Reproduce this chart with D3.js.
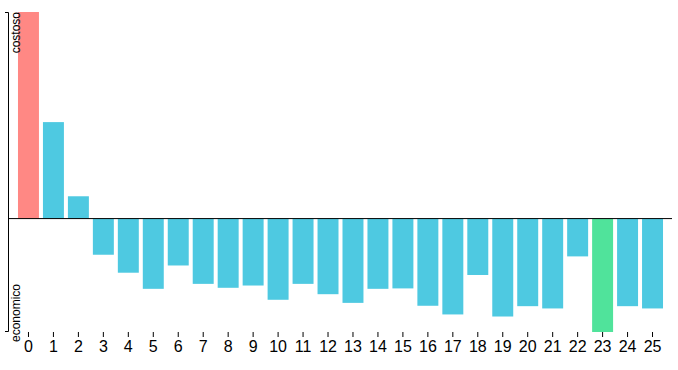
<!DOCTYPE html>
<html>
<head>
<meta charset="utf-8">
<script src="https://cdn.jsdelivr.net/npm/d3@7"></script>
<style>
body { margin: 0; background: #fff; }
svg { display: block; font-family: "Liberation Sans", Arial, sans-serif; }
</style>
</head>
<body>
<svg id="chart" width="678" height="370"></svg>
<script>
const categories = d3.range(0, 26).map(String);
const values = [100, 46.7, 10.8, -17.5, -26.2, -34, -22.7, -31.6, -33.5, -32.4, -39.3, -31.6, -36.6, -40.8, -34, -33.8, -42.2, -46.4, -27.3, -47.4, -42.4, -43.5, -18.3, -54.9, -42.4, -43.5];
const yLabels = ["costoso", "economico"];
const colors = { max: "#ff8884", min: "#50e39b", normal: "#4ec9e1" };

(function () {
const svg = d3.select("#chart");
const mLeft = 8, mRight = 673, mTop = 12, mBottom = 331;

const x = d3.scaleBand().domain(categories).range([mLeft, mRight]).paddingInner(0.16).paddingOuter(0.4);
const y = d3.scaleLinear().domain([d3.min(values), d3.max(values)]).range([mBottom + 1, mTop]);

const maxV = d3.max(values), minV = d3.min(values);

svg.append("g").selectAll("rect").data(values).join("rect")
  .attr("x", (d, i) => x(categories[i]))
  .attr("width", x.bandwidth())
  .attr("y", d => y(Math.max(0, d)))
  .attr("height", d => Math.abs(y(d) - y(0)))
  .attr("fill", d => d === maxV ? colors.max : d === minV ? colors.min : colors.normal);

svg.append("line")
  .attr("x1", mLeft).attr("x2", 672)
  .attr("y1", y(0)).attr("y2", y(0))
  .attr("stroke", "#000").attr("stroke-width", 1);

const yAxis = svg.append("g").attr("transform", `translate(${mLeft},0)`)
  .call(d3.axisLeft(y.copy().range([mBottom, mTop])).tickValues([]).tickSizeOuter(3));
yAxis.select(".domain").attr("stroke", "#000");

svg.append("text")
  .attr("transform", `translate(${mLeft + 12},${mTop}) rotate(-90)`)
  .attr("text-anchor", "end")
  .attr("font-size", 12)
  .text(yLabels[0]);
svg.append("text")
  .attr("transform", `translate(${mLeft + 12},${mBottom + 11}) rotate(-90)`)
  .attr("text-anchor", "start")
  .attr("font-size", 12)
  .text(yLabels[1]);

const xAxis = svg.append("g").attr("transform", `translate(0,${mBottom + 1})`)
  .call(d3.axisBottom(x).tickSize(5).tickPadding(4));
xAxis.select(".domain").remove();
xAxis.selectAll("text").attr("font-size", 16).attr("font-family", "Liberation Sans, Arial, sans-serif").attr("fill", "#000");
})();
</script>
</body>
</html>
